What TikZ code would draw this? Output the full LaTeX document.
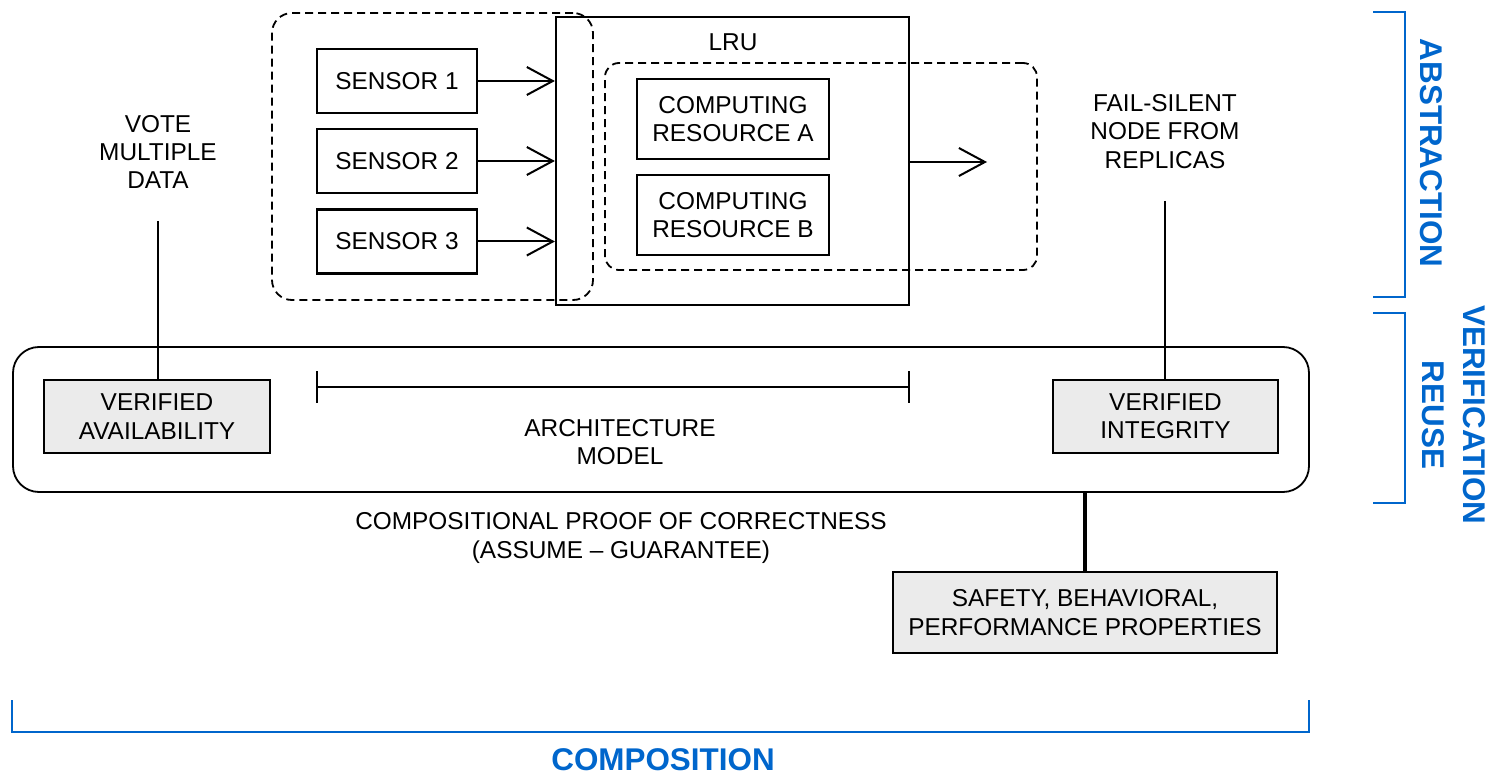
\documentclass[tikz,border=0pt]{standalone}
\usepackage{fontspec}
\setmainfont{Liberation Sans}
\usetikzlibrary{arrows.meta}
\definecolor{bracketblue}{HTML}{0066CC}
\definecolor{boxgray}{HTML}{EBEBEB}
\begin{document}
\begin{tikzpicture}[x=0.5pt,y=-0.5pt,
  every node/.style={font=\fontsize{12.2pt}{14.2pt}\selectfont, inner sep=0pt, align=center},
  plainbox/.style={draw, line width=1.1pt, minimum width=#1},
  graybox/.style={draw, line width=1pt, fill=boxgray, minimum width=#1},
  dashgroup/.style={draw, line width=0.9pt, dash pattern=on 4pt off 2.5pt, rounded corners=#1},
  label/.style={},
  flow/.style={line width=1pt, -{Straight Barb[length=13pt,width=14pt]}},
  link/.style={line width=1pt},
  biglink/.style={line width=1.6pt},
  bluebracket/.style={draw=bracketblue, line width=1.1pt},
  bluetext/.style={text=bracketblue, font=\fontsize{15.7pt}{20.5pt}\selectfont\bfseries}
]
\useasboundingbox (0,0) rectangle (1494,775);

% Sensor group and LRU
\node[dashgroup=10pt, minimum width=160.5pt, minimum height=143.5pt] (sgroup) at (432.5,156.5) {};
\node[plainbox=176.5pt, minimum height=144pt] (lru) at (732.5,161) {};
\node[label] (lrulbl) at (733,42) {LRU};
\node[dashgroup=7pt, minimum width=216pt, minimum height=103.5pt] (cgroup) at (821,166.5) {};

\node[plainbox=80pt, minimum height=32pt] (s1) at (397,81) {SENSOR 1};
\node[plainbox=80pt, minimum height=32pt] (s2) at (397,161) {SENSOR 2};
\node[plainbox=80pt, minimum height=32pt] (s3) at (397,241.5) {SENSOR 3};

\node[plainbox=96pt, minimum height=40pt] (ca) at (733,119) {COMPUTING\\RESOURCE A};
\node[plainbox=96pt, minimum height=40pt] (cb) at (733,215) {COMPUTING\\RESOURCE B};

\draw[flow] (s1.east) -- (s1.east -| lru.west);
\draw[flow] (s2.east) -- (s2.east -| lru.west);
\draw[flow] (s3.east) -- (s3.east -| lru.west);
\coordinate (out) at (987,162);
\draw[flow] (out -| lru.east) -- (out);

% Verification layer
\node[draw, line width=0.9pt, rounded corners=13pt, minimum width=648pt, minimum height=72.5pt] (arch) at (661,419.5) {};
\node[graybox=113pt, minimum height=36.5pt] (avail) at (157,416.5) {VERIFIED\\AVAILABILITY};
\node[graybox=112.5pt, minimum height=36.5pt] (integ) at (1165.5,416.5) {VERIFIED\\INTEGRITY};

\node[label] (vote) at (158,152) {VOTE\\MULTIPLE\\DATA};
\node[label] (fail) at (1165,131.5) {FAIL-SILENT\\NODE FROM\\REPLICAS};
\coordinate (votelow) at (158,221);
\coordinate (faillow) at (1165,201);
\draw[link] (votelow) -- (votelow |- avail.north);
\draw[link] (faillow) -- (faillow |- integ.north);

% Architecture model span
\coordinate (aml) at (317,387);
\coordinate (amr) at (909,387);
\draw[link] (aml) -- (amr);
\draw[line width=1.4pt] ([yshift=8pt]aml) -- ([yshift=-8pt]aml);
\draw[line width=1.4pt] ([yshift=8pt]amr) -- ([yshift=-8pt]amr);
\node[label] (amlbl) at (620,442) {ARCHITECTURE\\MODEL};

\node[label] (proof) at (621,538) {COMPOSITIONAL PROOF OF CORRECTNESS\\(ASSUME -- GUARANTEE)};

\node[graybox=192pt, minimum height=40.5pt] (props) at (1085,612.5) {SAFETY, BEHAVIORAL,\\PERFORMANCE PROPERTIES};
\draw[biglink] (props.north |- arch.south) -- (props.north);

% Blue brackets
\draw[bluebracket] (1373,12) -- (1405,12) -- (1405,297) -- (1373,297);
\draw[bluebracket] (1373,313) -- (1405,313) -- (1405,503) -- (1373,503);
\draw[bluebracket] (12,700) -- (12,732) -- (1309,732) -- (1309,700);
\node[bluetext, rotate=-90] (abs) at (1431,153) {ABSTRACTION};
\node[bluetext, rotate=-90] (ver) at (1454,415) {VERIFICATION\\REUSE};
\node[bluetext] (comp) at (663,760) {COMPOSITION};
\end{tikzpicture}
\end{document}
